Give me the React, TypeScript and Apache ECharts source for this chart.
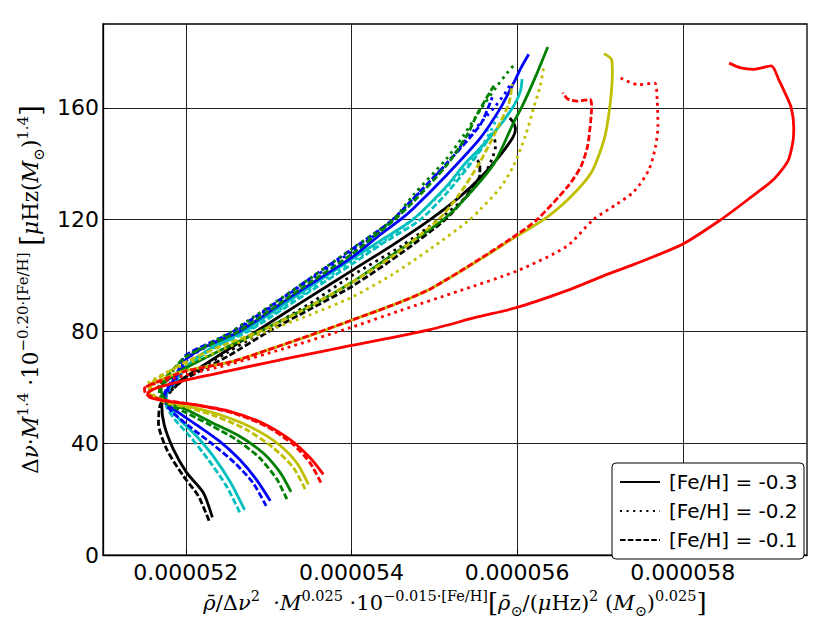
import React, { useEffect, useRef } from "react";
import * as echarts from "echarts";

// x values are written in units of 1e-6 and scaled by U when the series are built
const U = 1e-6;
const X_TICKS = [52, 54, 56, 58];
const Y_TICKS = [0, 40, 80, 120, 160];
const X_MIN = 51.0;
const X_MAX = 59.5;
const Y_MIN = 0;
const Y_MAX = 190;
const LEGEND_LABELS = ["[Fe/H] = -0.3", "[Fe/H] = -0.2", "[Fe/H] = -0.1"];

const K_SOLID = [[52.32,13.5],[52.21,22.4],[52.01,29.5],[51.85,37.8],[51.74,46.5],[51.71,53.5],[51.76,57.5],[51.87,61],[52.0,63.8],[52.35,70.5],[52.85,80],[53.4,90.5],[54.0,101.7],[54.5,111],[54.95,120],[55.3,128],[55.55,134.8],[55.78,142.5],[55.95,149.5],[55.98,152.5],[55.95,155],[55.91,156.4]];
const K_DOT = [[51.8,58],[51.92,61.5],[52.1,65.5],[52.5,72.5],[52.93,80],[53.5,90],[54.0,99.9],[54.6,110.5],[55.05,120],[55.38,128],[55.6,136],[55.7,142],[55.74,146.5],[55.72,149.5],[55.68,151]];
const K_DASH = [[52.28,12.3],[52.15,21.2],[51.97,28.3],[51.77,37.8],[51.67,47.2],[51.69,53.7],[51.78,57.5],[51.9,61],[52.1,64.8],[52.5,71],[53.0,80],[53.5,88],[54.0,96],[54.6,108],[55.13,120],[55.35,127],[55.47,132],[55.55,136],[55.55,139.5],[55.52,141.3]];

const C_SOLID = [[52.71,16.2],[52.53,26.5],[52.33,35.4],[52.13,42.5],[51.93,48.4],[51.79,53.7],[51.76,56.5],[51.8,60],[51.9,63.5],[52.0,67.5],[52.3,74],[52.69,80],[53.3,92],[54.0,105.8],[54.35,112.5],[54.74,120],[55.15,132],[55.37,140],[55.55,145.5],[55.8,154],[55.96,160.8],[56.04,166],[56.06,170.3]];
const C_DOT = [[51.79,58.5],[51.88,62],[52.0,67],[52.3,73.5],[52.72,80],[53.35,92],[54.0,105],[54.4,112.5],[54.78,121],[55.15,131.5],[55.45,141],[55.62,148.5],[55.72,154],[55.76,157]];
const C_DASH = [[52.65,15.3],[52.49,24.7],[52.27,34.2],[52.05,42.5],[51.87,48.4],[51.77,53.1],[51.76,56.5],[51.82,60.5],[51.92,64],[52.05,68],[52.35,74.5],[52.75,80],[53.35,91.5],[54.0,104],[54.35,111],[54.83,120],[55.15,129.5],[55.4,138.5],[55.55,144.5],[55.65,148.5],[55.68,150.5],[55.64,152]];

const B_SOLID = [[53.02,19.4],[52.85,27.1],[52.65,34.2],[52.41,40.7],[52.13,46.6],[51.89,51.4],[51.77,54.3],[51.75,57.3],[51.8,60.5],[51.9,64.5],[52.0,70],[52.3,75.5],[52.65,80],[53.3,93],[54.0,106.4],[54.35,114.7],[54.59,120],[54.75,124.1],[55.15,136],[55.55,149],[55.8,160],[55.96,169],[56.05,174.5],[56.14,179.2]];
const B_DOT = [[51.78,58.5],[51.85,61.5],[51.95,66],[52.05,71],[52.6,80],[53.3,94.5],[54.0,108.5],[54.35,116],[54.75,127.5],[55.15,140.1],[55.45,151],[55.72,160],[55.85,165],[55.92,168.5]];
const B_DASH = [[52.97,17.6],[52.81,25.9],[52.59,33.0],[52.33,39.5],[52.07,45.4],[51.85,50.8],[51.76,54],[51.74,57.5],[51.8,61],[51.9,65.5],[52.0,71.5],[52.57,80],[53.55,100],[54.0,109.3],[54.5,120],[54.75,127.7],[55.15,140.1],[55.55,153.7],[55.65,160],[55.7,163.8]];

const G_SOLID = [[53.27,22.6],[53.14,29.5],[52.93,36.6],[52.65,42.5],[52.33,47.2],[52.01,52.0],[51.81,54.3],[51.72,57],[51.7,60],[51.8,63],[52.0,67],[52.4,73],[52.89,80],[53.5,89],[54.0,97.5],[54.5,107.5],[55.11,120],[55.4,128.5],[55.72,140],[55.96,154.9],[56.06,160.5],[56.22,171],[56.37,181.8]];
const G_DOT = [[51.66,60],[51.75,63],[51.88,67],[52.0,71],[52.55,80],[53.5,99],[54.0,109.5],[54.5,120],[54.75,128.9],[55.15,141.9],[55.35,150],[55.55,159],[55.75,167.5],[55.88,172.5],[55.96,175.3]];
const G_DASH = [[53.22,20.0],[53.1,27.1],[52.89,34.8],[52.61,41.3],[52.29,46.6],[51.97,51.4],[51.76,54.5],[51.68,58],[51.7,61.5],[51.82,65.5],[52.0,71],[52.63,80],[53.4,95.5],[54.0,107.6],[54.52,120],[54.75,126.5],[55.15,139.5],[55.4,150.5],[55.51,157.3],[55.63,163.5],[55.72,167.9]];

const Y_SOLID = [[53.48,25.3],[53.34,33.0],[53.1,40.1],[52.77,46.0],[52.41,50.2],[52.05,53.1],[51.73,55.5],[51.56,58],[51.56,60],[51.68,62.5],[52.0,66],[52.53,69],[53.0,73.5],[53.55,79],[54.0,84],[54.59,90.5],[54.97,95.5],[55.51,105],[56.0,114.2],[56.32,120],[56.61,127.1],[56.89,136.6],[57.05,148.6],[57.12,160.6],[57.15,172.5],[57.14,177.3],[57.05,179.4]];
const Y_DOT = [[51.54,61.5],[51.65,63.5],[51.85,66.5],[52.15,70],[52.97,80],[53.5,86],[54.0,92.2],[54.5,100.5],[54.95,109.5],[55.43,120],[55.55,123.5],[55.8,131.5],[55.96,139.5],[56.1,150],[56.2,160],[56.28,168],[56.32,174.4]];
const Y_DASH = [[53.44,23.6],[53.3,31.2],[53.06,38.3],[52.73,44.9],[52.37,49.6],[52.01,52.9],[51.72,55],[51.58,58.5],[51.58,61],[51.7,64],[52.0,69.1],[52.4,74.5],[52.89,80],[53.5,89],[54.0,97.5],[54.5,107],[55.05,120],[55.3,129],[55.55,140.5],[55.75,152],[55.9,161.5],[55.94,168.5]];

const R_SOLID = [[53.66,28.9],[53.5,34.8],[53.26,41.3],[52.93,47.2],[52.53,51.4],[52.13,53.7],[51.81,54.9],[51.57,56.3],[51.54,57.8],[51.65,59.8],[52.0,62.6],[52.53,66],[53.3,70.8],[54.0,75],[54.95,80.7],[55.51,85.1],[56.0,88.6],[56.6,94.6],[57.05,100],[57.41,104],[57.99,111.1],[58.46,120],[58.8,127.5],[59.1,134.5],[59.27,141],[59.33,148],[59.34,153],[59.31,160],[59.24,165],[59.16,170],[59.07,175],[58.86,173.8],[58.7,174.3],[58.56,176]];
const R_DOT = [[51.52,60.3],[51.7,62],[52.0,64.4],[52.53,68.3],[53.2,74],[54.0,81.5],[54.59,87.5],[55.3,94.5],[56.0,101.7],[56.6,110.5],[56.92,120],[57.2,125.5],[57.41,130],[57.59,137.8],[57.67,146],[57.7,153.4],[57.69,163],[57.66,168.9],[57.46,168.3],[57.25,170.7]];
const R_DASH = [[53.63,25.9],[53.5,33.0],[53.3,39.5],[52.98,46.0],[52.57,50.8],[52.13,53.7],[51.73,55.5],[51.52,57.5],[51.5,59.6],[51.62,61.5],[52.0,65.8],[52.53,69],[53.0,73.5],[53.55,79.2],[54.0,84],[54.59,90.5],[54.97,95.5],[55.51,105.2],[56.0,114.7],[56.24,120],[56.61,131.8],[56.77,139],[56.85,146.2],[56.89,155.8],[56.9,160.6],[56.88,163],[56.73,162.4],[56.61,163.2],[56.55,165.4]];

const COLORS: Record<string, string> = {
  k: "#000000",
  c: "#00bfbf",
  b: "#0000ff",
  g: "#008000",
  y: "#bfbf00",
  r: "#ff0000",
};

const CURVES: { c: string; s: number; pts: number[][] }[] = [
  { c: "k", s: 0, pts: K_SOLID }, { c: "k", s: 1, pts: K_DOT }, { c: "k", s: 2, pts: K_DASH },
  { c: "c", s: 0, pts: C_SOLID }, { c: "c", s: 1, pts: C_DOT }, { c: "c", s: 2, pts: C_DASH },
  { c: "b", s: 0, pts: B_SOLID }, { c: "b", s: 1, pts: B_DOT }, { c: "b", s: 2, pts: B_DASH },
  { c: "g", s: 0, pts: G_SOLID }, { c: "g", s: 1, pts: G_DOT }, { c: "g", s: 2, pts: G_DASH },
  { c: "y", s: 0, pts: Y_SOLID }, { c: "y", s: 1, pts: Y_DOT }, { c: "y", s: 2, pts: Y_DASH },
  { c: "r", s: 0, pts: R_SOLID }, { c: "r", s: 1, pts: R_DOT }, { c: "r", s: 2, pts: R_DASH },
];

const LW = 2.8;
const DASHES: any[] = ["solid", [LW, 4.2], [6.4, 2.6]];
const LEGEND_DASHES: any[] = [null, [2, 4.6], [5.6, 2.2]];

const SANS = "DejaVu Sans";
const SERIF = "'DejaVu Serif', 'Liberation Serif', serif";

function makeRich(base: number, sup: number, lh: number) {
  return {
    n: { fontFamily: SERIF, fontSize: base, lineHeight: lh, color: "#000" },
    i: { fontFamily: SERIF, fontSize: base, fontStyle: "italic", lineHeight: lh, color: "#000" },
    sup: { fontFamily: SERIF, fontSize: sup, lineHeight: sup, verticalAlign: "top", color: "#000" },
    sub: { fontFamily: SERIF, fontSize: sup, lineHeight: Math.round(lh * 0.67), verticalAlign: "bottom", color: "#000" },
    br: { fontFamily: SERIF, fontSize: Math.round(base * 1.25), lineHeight: lh, color: "#000" },
  };
}
const RICH_X = makeRich(21, 14.5, 30);
const RICH_Y = makeRich(21.5, 15, 31);

const X_NAME =
  "{i|ρ̄}{n|/Δ}{i|ν}{sup|2}{n|  ·}{i|M}{sup|0.025}{n| ·10}{sup|−0.015·[Fe/H]}{br|[}{i|ρ̄}{sub|⊙}{n|/(}{i|μ}{n|Hz)}{sup|2}{n| (}{i|M}{sub|⊙}{n|)}{sup|0.025}{br|]}";
const Y_NAME =
  "{n|Δ}{i|ν}{n|·}{i|M}{sup|1.4}{n| ·10}{sup|−0.20·[Fe/H]}{n| }{br|[}{i|μ}{n|Hz(}{i|M}{sub|⊙}{n|)}{sup|1.4}{br|]}";

// legend box geometry (pixels)
const LEG_X = 612;
const LEG_Y = 463;
const LEG_W = 192;
const LEG_H = 96;
const LEG_ROW0 = 482;
const LEG_ROW_STEP = 29;

export default function App() {
  const ref = useRef<HTMLDivElement>(null);

  useEffect(() => {
    document.body.style.margin = "0";
    if (!ref.current) return;
    const chart = echarts.init(ref.current, null, { renderer: "svg" });

    const dataSeries = CURVES.map((cv, idx) => ({
      type: "line",
      name: "curve" + idx,
      data: cv.pts.map(([x, y]) => [x * U, y]),
      showSymbol: false,
      symbol: "none",
      smooth: 0.25,
      silent: true,
      lineStyle: {
        color: COLORS[cv.c],
        width: LW,
        type: DASHES[cv.s],
        cap: "butt",
        join: "round",
      },
      z: 2,
    }));

    const legendGraphics: any[] = [
      {
        type: "rect",
        shape: { x: LEG_X, y: LEG_Y, width: LEG_W, height: LEG_H, r: 4 },
        style: { fill: "#fff", stroke: "#000", lineWidth: 1 },
        z: 100,
      },
    ];
    LEGEND_LABELS.forEach((lab, i) => {
      const yy = LEG_ROW0 + i * LEG_ROW_STEP;
      legendGraphics.push({
        type: "line",
        shape: { x1: LEG_X + 8, y1: yy, x2: LEG_X + 48, y2: yy },
        style: { stroke: "#000", lineWidth: 2, lineDash: LEGEND_DASHES[i], lineCap: "butt" },
        z: 101,
      });
      legendGraphics.push({
        type: "text",
        x: LEG_X + 57,
        y: yy,
        style: {
          text: lab,
          fontFamily: SANS,
          fontSize: 20,
          fill: "#000",
          verticalAlign: "middle",
          align: "left",
        },
        z: 101,
      });
    });

    chart.setOption({
      animation: false,
      backgroundColor: "#fff",
      grid: {
        left: 103,
        right: 23,
        top: 24,
        bottom: 63,
        show: true,
        borderColor: "#000",
        borderWidth: 1.3,
        backgroundColor: "transparent",
      },
      xAxis: {
        type: "value",
        min: X_MIN * U,
        max: X_MAX * U,
        name: X_NAME,
        nameLocation: "middle",
        nameGap: 29,
        nameTextStyle: { fontFamily: SERIF, fontSize: 21, color: "#000", rich: RICH_X },
        axisLine: { show: true, lineStyle: { color: "#000", width: 1.3 } },
        axisTick: { show: true, inside: true, length: 5, customValues: X_TICKS.map((v) => v * U), lineStyle: { color: "#000" } },
        axisLabel: {
          customValues: X_TICKS.map((v) => v * U),
          formatter: (v: number) => v.toFixed(6),
          fontFamily: SANS,
          fontSize: 22,
          color: "#000",
          margin: 6,
        },
        splitLine: { show: true, lineStyle: { color: "#222", width: 1 } },
      },
      yAxis: {
        type: "value",
        min: Y_MIN,
        max: Y_MAX,
        name: Y_NAME,
        nameLocation: "middle",
        nameRotate: 90,
        nameGap: 47,
        nameTextStyle: { fontFamily: SERIF, fontSize: 21.5, color: "#000", rich: RICH_Y },
        axisLine: { show: true, lineStyle: { color: "#000", width: 1.3 } },
        axisTick: { show: true, inside: true, length: 5, customValues: Y_TICKS, lineStyle: { color: "#000" } },
        axisLabel: {
          customValues: Y_TICKS,
          fontFamily: SANS,
          fontSize: 22,
          color: "#000",
          margin: 4,
        },
        splitLine: { show: true, lineStyle: { color: "#222", width: 1 } },
      },
      graphic: legendGraphics,
      series: dataSeries,
    });

    return () => chart.dispose();
  }, []);

  return (
    <div
      ref={ref}
      style={{ position: "fixed", left: 0, top: 0, width: 830, height: 623, background: "#fff" }}
    />
  );
}
